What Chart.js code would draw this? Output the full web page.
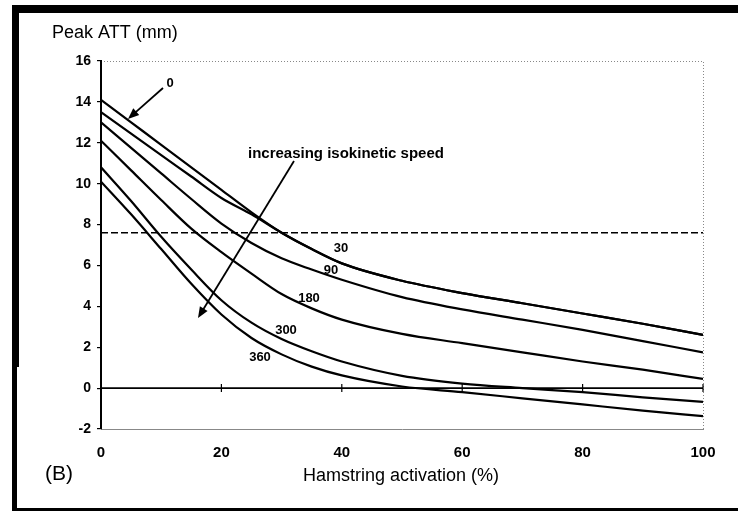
<!DOCTYPE html>
<html>
<head>
<meta charset="utf-8">
<title>Peak ATT vs hamstring activation</title>
<script src="https://cdn.jsdelivr.net/npm/chart.js@4.4.0/dist/chart.umd.min.js"></script>
<style>
  html, body { margin: 0; padding: 0; background: #fff; }
  #wrap { width: 738px; height: 512px; }
</style>
</head>
<body>
<div id="wrap"><canvas id="attChart" width="738" height="512"></canvas></div>
<script>
// Data
const activation = [0, 5, 10, 15, 20, 25, 30, 35, 40, 50, 60, 70, 80, 90, 100];
const speed0   = [14.1, 13.0, 11.9, 10.8, 9.7, 8.6, 7.6, 6.8, 6.1, 5.25, 4.65, 4.15, 3.65, 3.15, 2.6];
const speed30  = [13.5, 12.45, 11.4, 10.35, 9.3, 8.5, 7.6, 6.8, 6.1, 5.25, 4.65, 4.15, 3.65, 3.15, 2.6];
const speed90  = [13.0, 11.75, 10.5, 9.25, 8.05, 7.1, 6.35, 5.8, 5.3, 4.45, 3.85, 3.35, 2.85, 2.3, 1.75];
const speed180 = [12.1, 10.65, 9.2, 7.8, 6.65, 5.6, 4.6, 3.9, 3.35, 2.65, 2.2, 1.75, 1.3, 0.9, 0.45];
const speed300 = [10.8, 9.15, 7.4, 5.8, 4.3, 3.2, 2.4, 1.8, 1.3, 0.6, 0.22, 0.0, -0.2, -0.45, -0.67];
const speed360 = [10.1, 8.5, 6.8, 5.1, 3.6, 2.45, 1.65, 1.05, 0.62, 0.08, -0.2, -0.5, -0.8, -1.1, -1.37];
const speedNames = ['0', '30', '90', '180', '300', '360'];
const thresholdX = [0, 100];
const thresholdY = [7.6, 7.6];
const xTickValues = [0, 20, 40, 60, 80, 100];
const yTickValues = [-2, 0, 2, 4, 6, 8, 10, 12, 14, 16];

const FONT = '"Liberation Sans", Arial, Helvetica, sans-serif';

function toPoints(xs, ys) {
    return xs.map((x, i) => ({ x: x, y: ys[i] }));
}

function drawArrow(ctx, x1, y1, x2, y2) {
    const ang = Math.atan2(y2 - y1, x2 - x1);
    const len = 11, half = 4.5;
    ctx.beginPath();
    ctx.moveTo(x1, y1);
    ctx.lineTo(x2 - Math.cos(ang) * len * 0.8, y2 - Math.sin(ang) * len * 0.8);
    ctx.stroke();
    ctx.beginPath();
    ctx.moveTo(x2, y2);
    ctx.lineTo(x2 - Math.cos(ang) * len - Math.sin(ang) * half, y2 - Math.sin(ang) * len + Math.cos(ang) * half);
    ctx.lineTo(x2 - Math.cos(ang) * len + Math.sin(ang) * half, y2 - Math.sin(ang) * len - Math.cos(ang) * half);
    ctx.closePath();
    ctx.fill();
}

// frame, plot border, zero axis, titles and annotations
const decorations = {
    id: 'decorations',
    beforeDraw(chart) {
        const ctx = chart.ctx;
        ctx.save();
        ctx.fillStyle = '#fff';
        ctx.fillRect(0, 0, chart.width, chart.height);
        ctx.fillStyle = '#000';
        ctx.fillRect(12, 5, 726, 8);
        ctx.fillRect(12, 5, 7, 362);
        ctx.fillRect(12, 367, 5, 144);
        ctx.fillRect(12, 508, 726, 3);
        const a = chart.chartArea;
        ctx.strokeStyle = '#888';
        ctx.lineWidth = 1;
        ctx.setLineDash([1, 2]);
        ctx.beginPath();
        ctx.moveTo(a.left, a.top + 0.5);
        ctx.lineTo(a.right + 0.5, a.top + 0.5);
        ctx.lineTo(a.right + 0.5, a.bottom);
        ctx.stroke();
        ctx.restore();
    },
    beforeDatasetsDraw(chart) {
        const ctx = chart.ctx;
        const xs = chart.scales.x, ys = chart.scales.y;
        const y0 = ys.getPixelForValue(0);
        ctx.save();
        ctx.strokeStyle = '#000';
        ctx.lineWidth = 1.6;
        ctx.beginPath();
        ctx.moveTo(xs.left, y0);
        ctx.lineTo(xs.right, y0);
        ctx.stroke();
        ctx.lineWidth = 1.2;
        xTickValues.slice(1).forEach(v => {
            const px = xs.getPixelForValue(v);
            ctx.beginPath();
            ctx.moveTo(px, y0 - 4);
            ctx.lineTo(px, y0 + 4);
            ctx.stroke();
        });
        ctx.restore();
    },
    afterDraw(chart) {
        const ctx = chart.ctx;
        ctx.save();
        ctx.fillStyle = '#000';
        ctx.strokeStyle = '#000';
        ctx.textBaseline = 'middle';

        ctx.font = '18px ' + FONT;
        ctx.textAlign = 'left';
        ctx.fillText('Peak ATT (mm)', 52, 33);
        ctx.textAlign = 'center';
        ctx.fillText('Hamstring activation (%)', 401, 476);
        ctx.font = '21px ' + FONT;
        ctx.fillText('(B)', 59, 474);

        ctx.font = 'bold 15px ' + FONT;
        ctx.textAlign = 'left';
        ctx.fillText('increasing isokinetic speed', 248, 154);

        ctx.font = 'bold 13px ' + FONT;
        ctx.textAlign = 'center';
        const labelPos = [[170, 83], [341, 248], [331, 270], [309, 298], [286, 330], [260, 357]];
        speedNames.forEach((name, i) => {
            ctx.fillText(name, labelPos[i][0], labelPos[i][1]);
        });

        ctx.lineWidth = 1.8;
        drawArrow(ctx, 163, 88, 128, 119);
        drawArrow(ctx, 294, 161, 198, 318);
        ctx.restore();
    }
};

function lineSet(name, values) {
    return {
        label: name,
        data: toPoints(activation, values),
        borderColor: '#000',
        borderWidth: 2.2,
        pointRadius: 0,
        fill: false,
        cubicInterpolationMode: 'monotone'
    };
}

function renderChart() {
    const ctx = document.getElementById('attChart').getContext('2d');
    new Chart(ctx, {
        type: 'line',
        data: {
            datasets: [
                lineSet(speedNames[0], speed0),
                lineSet(speedNames[1], speed30),
                lineSet(speedNames[2], speed90),
                lineSet(speedNames[3], speed180),
                lineSet(speedNames[4], speed300),
                lineSet(speedNames[5], speed360),
                {
                    label: 'threshold',
                    data: toPoints(thresholdX, thresholdY),
                    borderColor: '#000',
                    borderWidth: 1.6,
                    borderDash: [7, 3],
                    pointRadius: 0,
                    fill: false
                }
            ]
        },
        options: {
            responsive: false,
            animation: false,
            devicePixelRatio: 1,
            layout: { padding: { left: 0, top: 61, right: 35, bottom: 0 } },
            plugins: {
                legend: { display: false },
                tooltip: { enabled: false }
            },
            scales: {
                x: {
                    type: 'linear',
                    min: 0,
                    max: 100,
                    afterFit: s => { s.height = 83; },
                    afterBuildTicks: s => { s.ticks = xTickValues.map(v => ({ value: v })); },
                    grid: { display: false },
                    border: { display: true, color: '#888', width: 1, dash: [1, 2] },
                    ticks: {
                        color: '#000',
                        padding: 7,
                        maxRotation: 0,
                        font: { family: FONT, size: 15, weight: 'bold' }
                    }
                },
                y: {
                    min: -2,
                    max: 16,
                    afterFit: s => { s.width = 101; },
                    afterBuildTicks: s => { s.ticks = yTickValues.map(v => ({ value: v })); },
                    grid: { drawOnChartArea: false, drawTicks: true, tickLength: 4, color: '#000', lineWidth: 1.2 },
                    border: { display: true, color: '#000', width: 2 },
                    ticks: {
                        color: '#000',
                        padding: 6,
                        font: { family: FONT, size: 14, weight: 'bold' }
                    }
                }
            }
        },
        plugins: [decorations]
    });
}

document.addEventListener('DOMContentLoaded', renderChart);
</script>
</body>
</html>
